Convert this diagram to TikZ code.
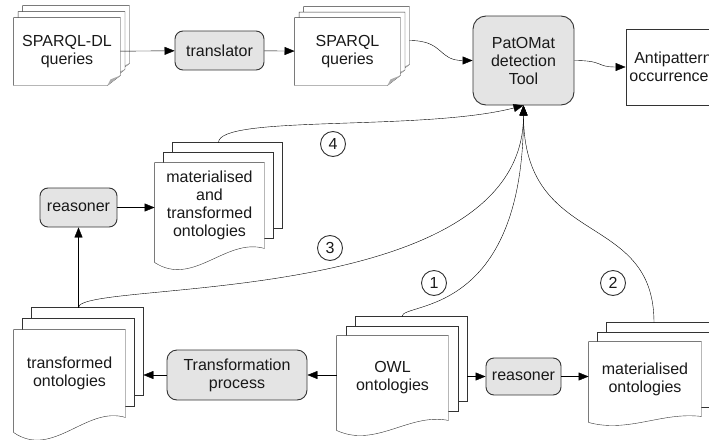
\documentclass[tikz,border=0pt]{standalone}
\usepackage{fontspec}
\setmainfont{Liberation Sans}
\usetikzlibrary{arrows.meta,calc,backgrounds}
\definecolor{edge}{HTML}{333333}
\definecolor{boxfill}{HTML}{E4E4E4}

\tikzset{
  >={Triangle[length=10pt,width=8pt]},
  proc/.style={draw=edge, fill=boxfill, rounded corners=8pt, align=center, inner sep=0pt},
  doc/.style={inner sep=0pt, align=center},
  page/.style={draw=edge, fill=white},
  num/.style={draw=edge, circle, minimum size=25pt, inner sep=0pt},
}

% pages behind a node: #1 node, #2 dx, #3 dy, #4 drop of the wavy bottom
\newcommand\wavestack[4]{%
  \coordinate (#1-top) at ([shift={(#2,-2*#3)}]#1.north);
  \coordinate (#1-back) at ([shift={(2*#2,-2*#3)}]#1.east);
  \foreach \k in {2,1}
    \draw[page] ([shift={(\k*#2,-\k*#3)}]#1.north west) rectangle ([shift={(\k*#2,-\k*#3)}]#1.south east);
  \draw[page] (#1.north west) -- (#1.north east) -- (#1.south east)
    .. controls ($(#1.south west)!.65!(#1.south east)+(0,-0.8*#4)$) and ($(#1.south west)!.35!(#1.south east)+(0,2.8*#4)$)
    .. ([shift={(0,#4)}]#1.south west) -- cycle;
}
\newcommand\cardstack[3]{%
  \coordinate (#1-back) at ([shift={(2*#2,-2*#3)}]#1.east);
  \foreach \k in {2,1,0}{
    \draw[page] ([shift={(\k*#2,-\k*#3)}]#1.north west) -- ([shift={(\k*#2,-\k*#3)}]#1.north east)
      -- ([shift={(\k*#2,-\k*#3-10)}]#1.south east) -- ([shift={(\k*#2-13,-\k*#3)}]#1.south east)
      -- ([shift={(\k*#2,-\k*#3)}]#1.south west) -- cycle;
    \fill[edge!40] ([shift={(\k*#2-13,-\k*#3)}]#1.south east) -- ([shift={(\k*#2,-\k*#3-10)}]#1.south east)
      -- ([shift={(\k*#2-10,-\k*#3-6)}]#1.south east) -- cycle;
  }
}

\begin{document}
\begin{tikzpicture}[x=1pt, y=-1pt, line width=0.9pt, font=\fontsize{16}{18}\selectfont, text=black!90]
\useasboundingbox (0,0) rectangle (709,439);

\node[doc, minimum width=106pt, minimum height=67pt] (sdl) at (67,51.5) {SPARQL-DL\\queries};
\node[proc, minimum width=89pt, minimum height=39pt] (translator) at (219.5,50.5) {translator};
\node[doc, minimum width=105pt, minimum height=67pt] (sq) at (347.5,51.5) {SPARQL\\queries};
\node[proc, rounded corners=13pt, minimum width=101pt, minimum height=89pt] (tool) at (523.5,60.5) {PatOMat\\detection\\Tool};
\node[draw=edge, fill=white, align=center, inner sep=0pt, minimum width=94pt, minimum height=76pt] (anti) at (673,67) {Antipattern\\occurrences};

\node[proc, minimum width=77pt, minimum height=39pt] (reas1) at (78.5,207.5) {reasoner};
\node[doc, minimum width=109pt, minimum height=85pt] (mt) at (209.5,205.5) {materialised\\and\\transformed\\ontologies};

\node[doc, minimum width=111pt, minimum height=87pt] (tr) at (69.5,373.5) {transformed\\ontologies};
\node[proc, rounded corners=10pt, minimum width=140pt, minimum height=50pt] (trans) at (237,375) {Transformation\\process};
\node[doc, minimum width=111pt, minimum height=84pt] (owl) at (392.5,378) {OWL\\ontologies};
\node[proc, minimum width=75pt, minimum height=37pt] (reas2) at (523.5,376.5) {reasoner};
\node[doc, minimum width=112pt, minimum height=74pt] (mat) at (645,379) {materialised\\ontologies};

\node[num] (c4) at (333,144) {4};
\node[num] (c3) at (330,248) {3};
\node[num] (c1) at (434,283) {1};
\node[num] (c2) at (613,283) {2};

\begin{pgfonlayer}{background}
\cardstack{sdl}{4.5}{6}
\cardstack{sq}{4.5}{5.5}
\wavestack{mt}{9}{10}{14}
\wavestack{tr}{9}{11}{15}
\wavestack{owl}{9.5}{9.5}{10}
\wavestack{mat}{9}{9.5}{6}
\end{pgfonlayer}

\draw[->] (sdl) -- (translator);
\draw[->] (translator) -- (sq);
\draw[->] (sq-back) .. controls +(35,0) and +(-35,0) .. (tool.west);
\draw[->] (tool.east) .. controls +(30,0) and +(-30,0) .. (anti.west);
\draw[->] (reas1) -- (reas1 -| mt.west);
\draw[->] (tr-top) -- (reas1);
\draw[->] (trans) -- (trans -| tr-back);
\draw[->] (owl.west |- trans) -- (trans);
\draw[->] (reas2 -| owl-back) -- (reas2);
\draw[->] (reas2) -- (reas2 -| mat.west);

\draw[->] (owl-top) .. controls +(0,-15) and +(0,214) .. (tool.south);
\draw[->] (mat-top) .. controls +(0,-113) and +(0,144) .. (tool.south);
\draw[->] (tr-top) .. controls +(0,-28) and +(0,205) .. (tool.south);
\draw[->] (mt-top) .. controls +(0,-28) and +(-100,26) .. (tool.south);
\end{tikzpicture}
\end{document}
